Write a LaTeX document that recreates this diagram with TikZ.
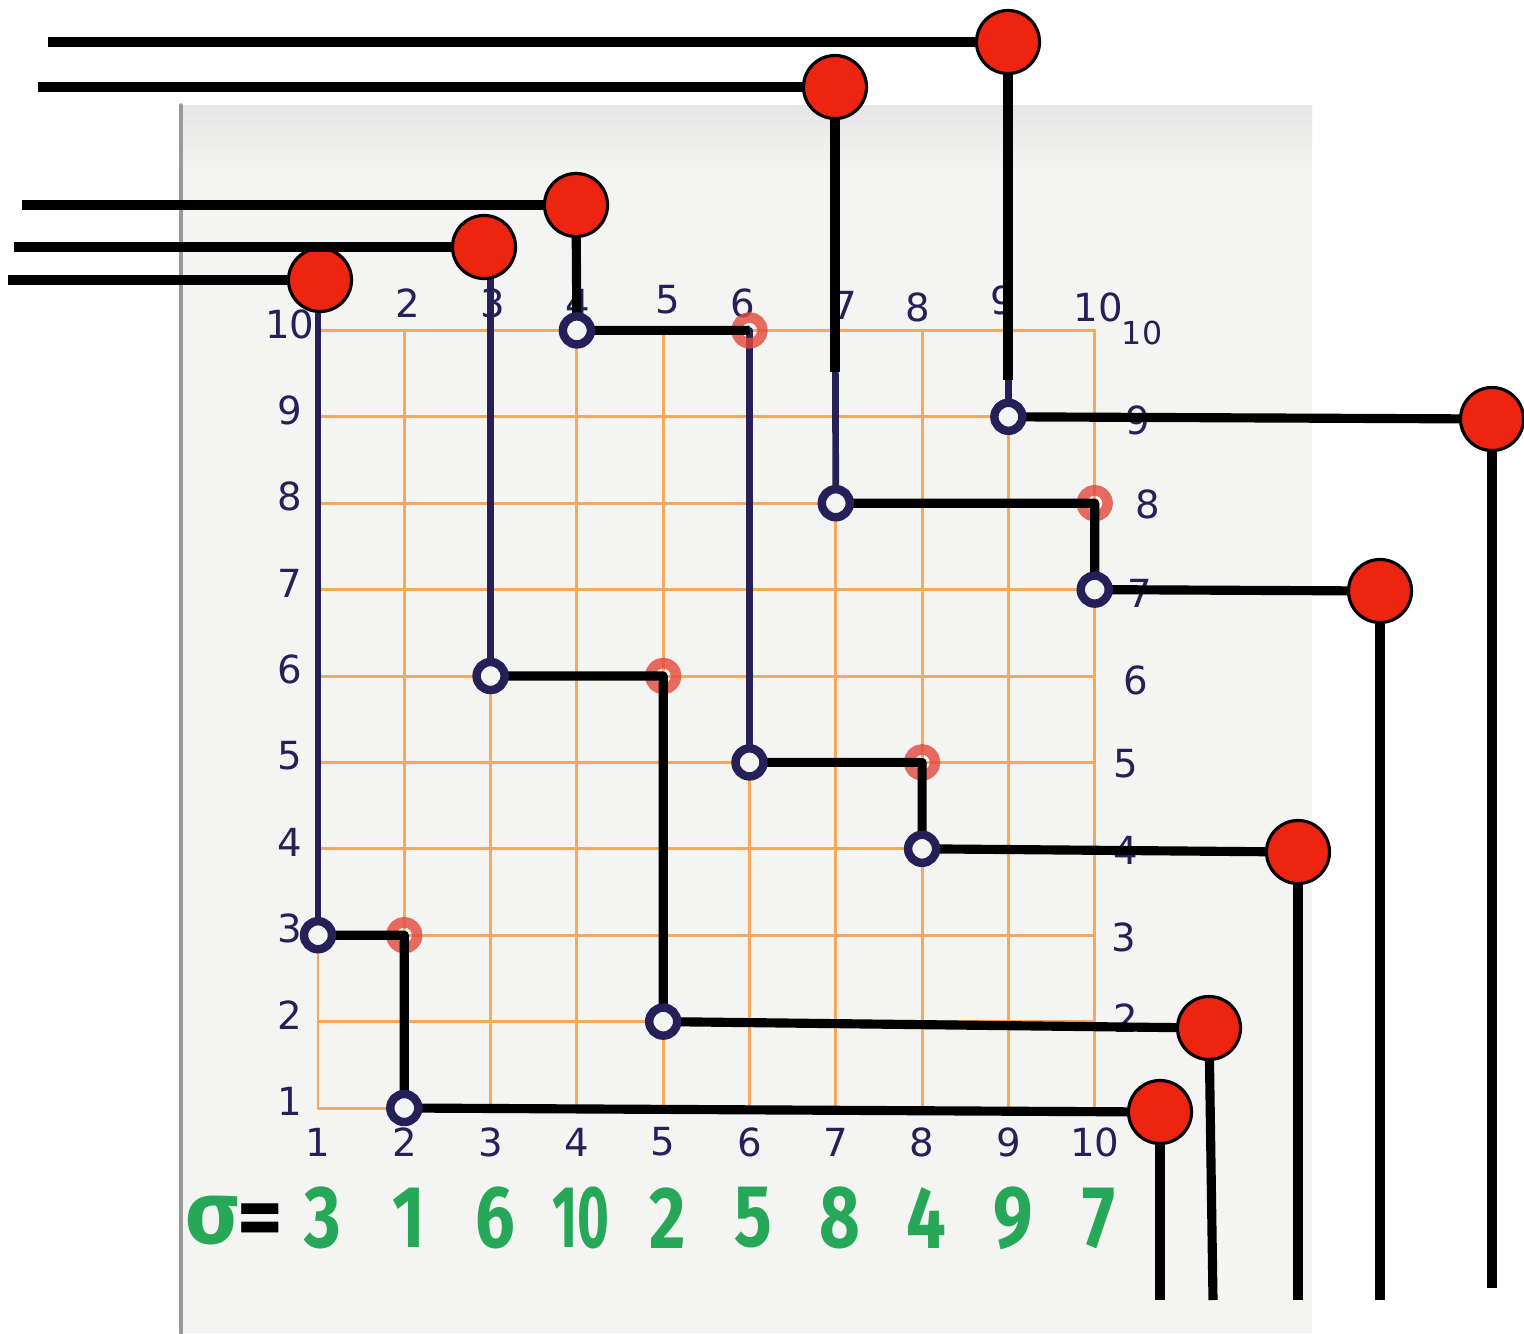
\documentclass[tikz,border=0pt]{standalone}
\usepackage{fontspec}
\usepackage{tikz}
\newfontfamily\hand{DejaVu Sans}
\newfontfamily\felt{Fira Sans}
\definecolor{navy}{RGB}{38,32,88}
\definecolor{gridor}{RGB}{246,168,92}
\definecolor{paper}{RGB}{244,245,242}
\definecolor{ballred}{RGB}{236,36,16}
\definecolor{peakred}{RGB}{228,72,60}
\definecolor{feltgreen}{RGB}{38,168,88}

\begin{document}
\begin{tikzpicture}[x=0.01cm, y=-0.01cm, line join=round, line cap=round,
    bar/.style={line width=2.6pt, line cap=butt},
    penline/.style={navy, line width=1.9pt},
    redball/.style={circle, draw=black, line width=0.9pt, fill=ballred, minimum size=0.63cm, inner sep=0pt},
    ring/.style={circle, draw=navy, line width=2.4pt, fill=paper, minimum size=0.28cm, inner sep=0pt},
    peak/.style={circle, draw=peakred, line width=3pt, minimum size=0.26cm, inner sep=0pt, opacity=0.8},
    lab/.style={navy, font=\hand\fontsize{11}{11}\selectfont},
    big/.style={feltgreen, font=\felt\bfseries\fontsize{25}{25}\selectfont}]
      \useasboundingbox (0,0) rectangle (1524,1333);
      \fill[white] (0,0) rectangle (1524,1333);
      \fill[paper] (180,105) rectangle (1312,1333);
      \shade[top color=black!10, bottom color=paper] (180,105) rectangle (1312,170);
      \draw[black!40, line width=1pt] (181,105) -- (181,1333);
      \foreach \i in {1,...,10}
        \foreach \j in {1,...,10}
          \coordinate (g\i-\j) at ({231.7+86.3*\i},{1194.4-86.4*\j});
      \foreach \k in {1,...,10} {
        \draw[gridor, line width=0.85pt] (g\k-1) -- (g\k-10);
        \draw[gridor, line width=0.85pt] (g1-\k) -- (g10-\k);
        \node[lab] at ({231.7+86.3*\k},1142) {\k};
        \node[lab] at (290,{1188-86.4*\k}) {\k};
      }
      \foreach \k/\x/\y in {2/408/303,3/493/303,4/578/303,5/668/300,6/743/303,7/845/305,8/918/307,9/1003/300,10/1098/307}
        \node[lab] at (\x,\y) {\k};
      \foreach \k/\x/\y in {9/1138/420,8/1148/504,7/1140/593,6/1136/680,5/1126/764,4/1126/850,3/1124/937,2/1126/1018}
        \node[lab] at (\x,\y) {\k};
      \node[lab, font=\hand\fontsize{9}{9}\selectfont] at (1142,333) {10};
      \node[big] at (212,1220) {σ};
      \node[big, black] at (260,1226) {=};
      \foreach \s/\w [count=\i] in {3/0.8,1/0.8,6/0.8,10/0.62,2/0.8,5/0.8,8/0.8,4/0.8,9/0.8,7/0.8}
        \node[big] at ({236+86.3*\i},1218) {\scalebox{\w}[1]{\s}};
      \coordinate (k1) at (318,305); \coordinate (k3) at (490.6,276);
      \coordinate (k7) at (835,372); \coordinate (k9) at (1008,380);
      \draw[penline] (g1-3) -- (k1);
      \draw[penline] (g3-6) -- (k3);
      \draw[penline] (g6-10) -- (g6-5);
      \draw[penline] (835,245) -- (g7-8);
      \draw[penline] (1009,255) -- (g9-9);
      \node[redball] (t1) at (320,280) {};
      \node[redball] (t2) at (484,247) {};
      \node[redball] (t3) at (576,205) {};
      \node[redball] (t4) at (835,87) {};
      \node[redball] (t5) at (1008,42) {};
      \node[redball] (b1) at (1160,1112) {};
      \node[redball] (b2) at (1209,1028) {};
      \node[redball] (b3) at (1298,852) {};
      \node[redball] (b4) at (1380,591) {};
      \node[redball] (b5) at (1492,419) {};
      \coordinate (e1) at (8,280); \coordinate (e2) at (14,247);
      \coordinate (e3) at (22,205); \coordinate (e4) at (38,87);
      \coordinate (e5) at (48,42);
      \coordinate (f1) at (1160,1300); \coordinate (f2) at (1213,1300);
      \coordinate (f3) at (1298,1300); \coordinate (f4) at (1380,1300);
      \coordinate (f5) at (1492,1288);
      \foreach \p in {2-3,5-6,6-10,8-5,10-8}
        \node[peak] at (g\p) {};
      \draw[bar] (t1) -- (e1);
      \draw[bar] (t2) -- (e2);
      \draw[bar] (t3) -- (e3);
      \draw[bar] (t4) -- (e4);
      \draw[bar] (t5) -- (e5);
      \draw[bar] (t4) -- (k7);
      \draw[bar] (t5) -- (k9);
      \draw[bar] (g1-3) -- (g2-3) -- (g2-1) -- (b1);
      \draw[bar] (g3-6) -- (g5-6) -- (g5-2) -- (b2);
      \draw[bar] (t3) -- (g4-10) -- (g6-10);
      \draw[bar] (g6-5) -- (g8-5) -- (g8-4) -- (b3);
      \draw[bar] (g7-8) -- (g10-8) -- (g10-7) -- (b4);
      \draw[bar] (g9-9) -- (b5);
      \foreach \i in {1,...,5}
        \draw[bar] (b\i) -- (f\i);
      \foreach \s [count=\i] in {3,1,6,10,2,5,8,4,9,7}
        \node[ring] at (g\i-\s) {};
    \end{tikzpicture}
\end{document}
